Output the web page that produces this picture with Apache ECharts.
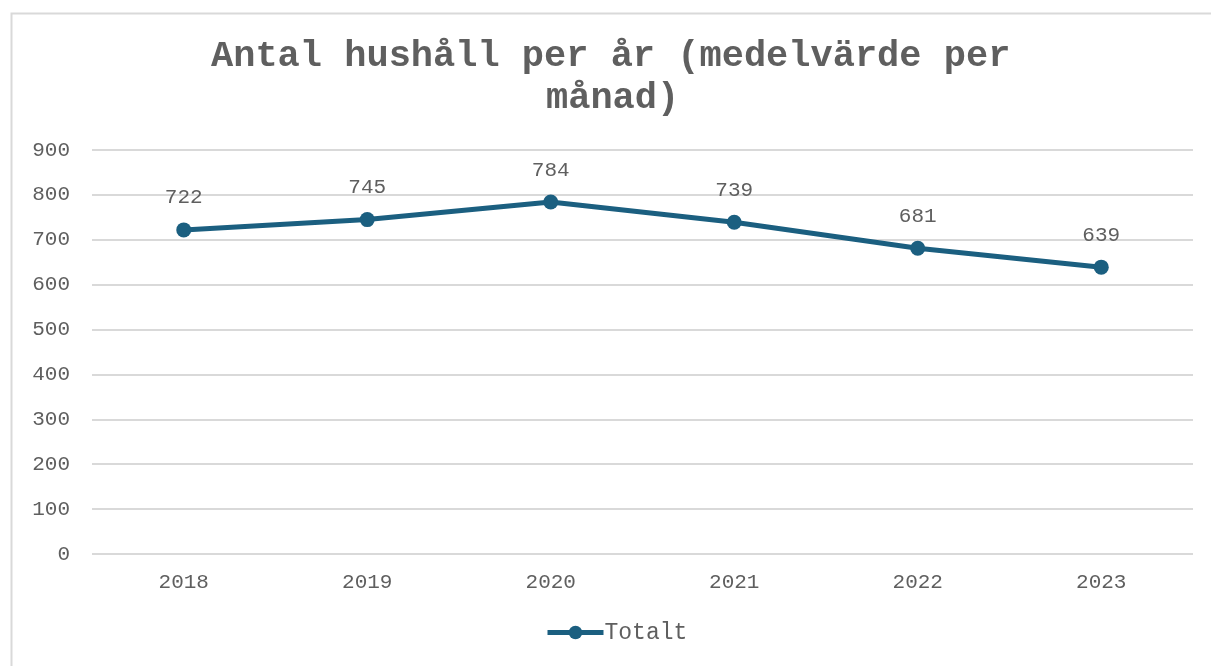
<!DOCTYPE html>
<html><head><meta charset="utf-8">
<script src="https://cdn.jsdelivr.net/npm/echarts@6/dist/echarts.min.js"></script>
<style>html,body{margin:0;padding:0;background:#fff}#c{width:1211px;height:666px}</style>
</head><body><div id="c"></div>
<script>
const categories = ['2018','2019','2020','2021','2022','2023'];
const totalt = [722, 745, 784, 739, 681, 639];
const yTicks = { min: 0, max: 900, interval: 100 };
const titleLines = ['Antal hushåll per år (medelvärde per', 'månad)'];
const seriesName = 'Totalt';

const font = '"Liberation Mono", "Courier New", monospace';
const lineColor = '#1b5f80';
const textColor = '#5f5f5f';
const titleStyle = { fontFamily: font, fontWeight: 'bold', fontSize: 37, color: textColor };
const chart = echarts.init(document.getElementById('c'), null, {renderer:'canvas'});
chart.setOption({
  backgroundColor: '#fff',
  animation: false,
  graphic: [{
    type: 'rect', left: 9, top: 11, silent: true, z: -10,
    shape: { width: 1300, height: 800 },
    style: { fill: 'none', stroke: '#d9d9d9', lineWidth: 2 }
  }],
  title: [
    { text: titleLines[0], left: 211, top: 38, padding: 0, textStyle: titleStyle },
    { text: titleLines[1], left: 546, top: 80, padding: 0, textStyle: titleStyle }
  ],
  legend: {
    data: [seriesName], bottom: 17, left: 540, itemWidth: 56, itemHeight: 17, itemGap: 4,
    lineStyle: { width: 5, color: lineColor },
    itemStyle: { color: lineColor },
    textStyle: { fontFamily: font, fontSize: 23, color: textColor, padding: [0, 0, 0, -4] }
  },
  grid: { left: 92, right: 18, top: 150, bottom: 112, containLabel: false },
  xAxis: {
    type: 'category', data: categories, boundaryGap: true,
    axisLine: { show: false }, axisTick: { show: false },
    axisLabel: { fontFamily: font, fontSize: 21, color: textColor, margin: 18 }
  },
  yAxis: {
    type: 'value', min: yTicks.min, max: yTicks.max, interval: yTicks.interval,
    axisLine: { show: false }, axisTick: { show: false },
    axisLabel: { fontFamily: font, fontSize: 21, color: textColor, margin: 22 },
    splitLine: { lineStyle: { color: '#d9d9d9', width: 2 } }
  },
  series: [{
    name: seriesName, type: 'line', data: totalt,
    symbol: 'circle', symbolSize: 15,
    lineStyle: { color: lineColor, width: 5 },
    itemStyle: { color: lineColor },
    label: { show: true, position: 'top', distance: 14, fontFamily: font, fontSize: 21, color: textColor }
  }]
});
</script></body></html>
